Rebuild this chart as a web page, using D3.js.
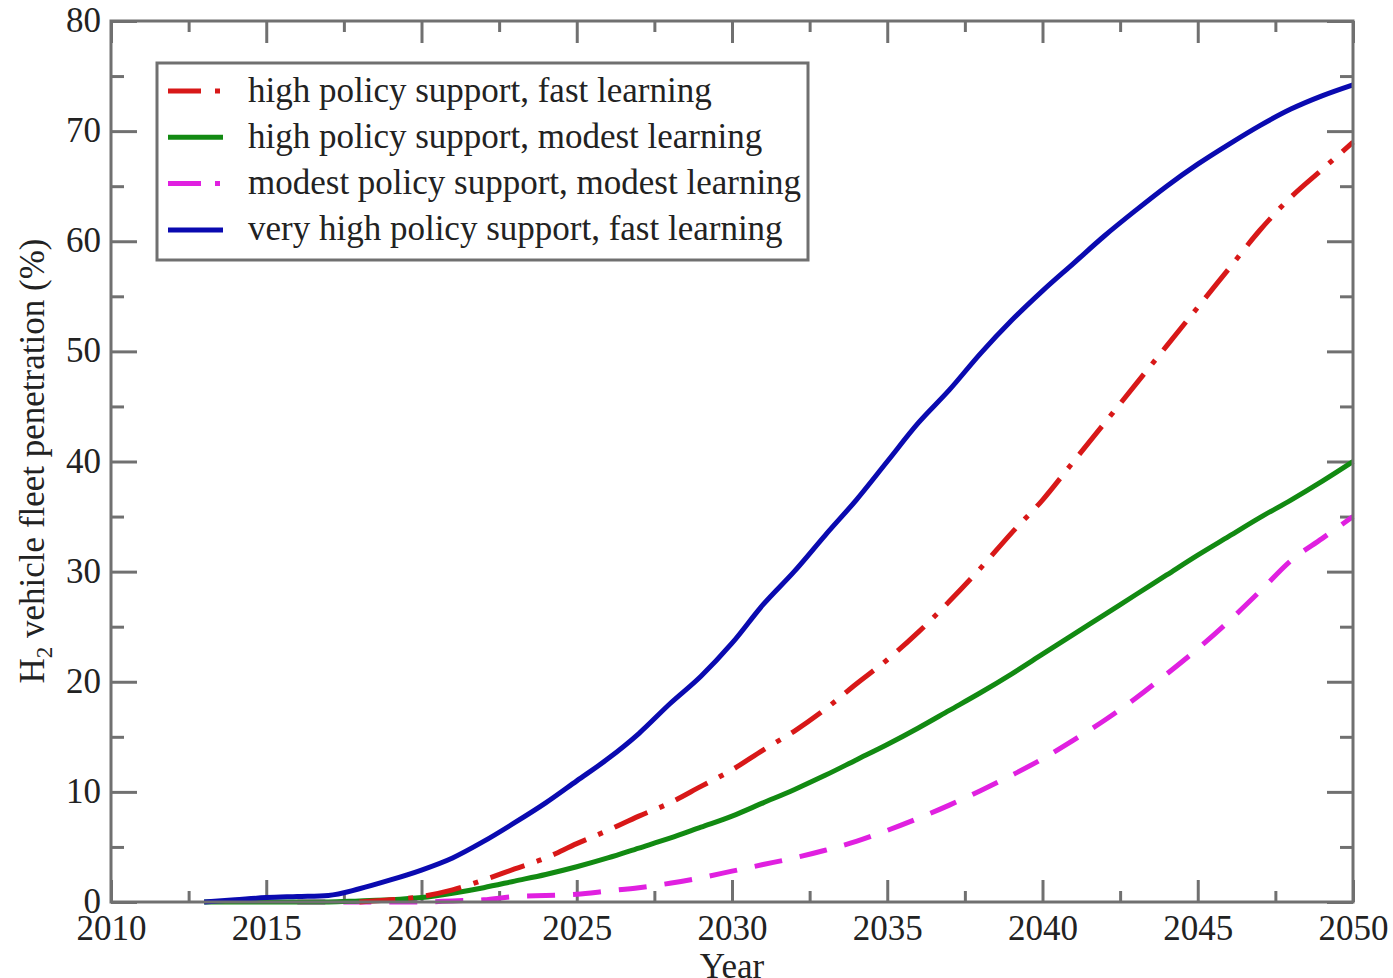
<!DOCTYPE html>
<html>
<head>
<meta charset="utf-8">
<script src="https://cdn.jsdelivr.net/npm/d3@7"></script>
<style>
  body { margin: 0; background: #fff; }
  svg text { font-family: "Liberation Serif", "DejaVu Serif", serif; fill: #222; }
</style>
</head>
<body>
<svg id="chart" width="1393" height="978"></svg>
<script>
// years
const years = d3.range(2013, 2051);

const seriesNames = [
  "high policy support, fast learning",
  "high policy support, modest learning",
  "modest policy support, modest learning",
  "very high policy support, fast learning"
];
const seriesColors = ["#d81818", "#128a12", "#e020e0", "#0a0ab0"];
const seriesDash = ["36,13,5,13", null, "28,18", null];
const legendDash = ["33,14,5,20", null, "33,14,5,20", null];

// values per year, 2013..2050 (null = not drawn)
const redVals = [null, null, null, null, null, 0, 0.2, 0.5, 1.1, 2, 3, 4, 5.3, 6.5, 7.8, 9, 10.5, 12, 13.8, 15.5, 17.5, 19.8, 22, 24.5, 27.3, 30.3, 33.5, 36.5, 40, 43.5, 47, 50.5, 54, 57.5, 61, 64, 66.5, 69];
const greenVals = [0, 0, 0, 0, 0, 0.1, 0.2, 0.4, 0.8, 1.3, 1.9, 2.5, 3.2, 4, 4.9, 5.8, 6.8, 7.8, 9, 10.2, 11.5, 12.9, 14.3, 15.8, 17.4, 19, 20.7, 22.5, 24.3, 26.1, 27.9, 29.7, 31.5, 33.2, 34.9, 36.5, 38.2, 40];
const magentaVals = [null, null, null, 0, 0, 0, 0, 0, 0.1, 0.2, 0.5, 0.6, 0.7, 1, 1.3, 1.7, 2.2, 2.8, 3.4, 4, 4.7, 5.5, 6.5, 7.6, 8.8, 10.1, 11.5, 13, 14.7, 16.5, 18.5, 20.7, 23, 25.5, 28.2, 31, 33, 35];
const blueVals = [0, 0.2, 0.4, 0.5, 0.6, 1.2, 2, 2.9, 4, 5.5, 7.2, 9, 11, 13, 15.3, 18, 20.5, 23.5, 27, 30, 33.3, 36.5, 40, 43.5, 46.5, 49.8, 52.8, 55.5, 58, 60.5, 62.8, 65, 67, 68.8, 70.5, 72, 73.2, 74.2];

const seriesVals = [redVals, greenVals, magentaVals, blueVals];

const xTicks = d3.range(2010, 2051, 5);
const yTicks = d3.range(0, 81, 10);

const margin = { left: 111, right: 40, top: 21, bottom: 76 };
const width = 1393, height = 978;
const fontSize = 35;

const svg = d3.select("#chart");

const x = d3.scaleLinear().domain([2010, 2050]).range([margin.left, width - margin.right]);
const y = d3.scaleLinear().domain([0, 80]).range([height - margin.bottom, margin.top]);

const axisColor = "#707070";

// minor ticks (no labels)
const minorX = d3.range(2012.5, 2050, 5);
const minorY = d3.range(5, 80, 10);

function styleAxis(g) {
  g.select(".domain").remove();
  g.selectAll("line").attr("stroke", axisColor).attr("stroke-width", 3);
  g.selectAll("text").attr("font-size", fontSize);
}

// bottom
svg.append("g")
  .attr("transform", `translate(0,${y(0)})`)
  .call(d3.axisBottom(x).tickValues(xTicks).tickFormat(d3.format("d")).tickSize(-22))
  .call(styleAxis)
  .call(g => g.selectAll("text").attr("dy", null).attr("y", 38));
svg.append("g")
  .attr("transform", `translate(0,${y(0)})`)
  .call(d3.axisBottom(x).tickValues(minorX).tickFormat("").tickSize(-11))
  .call(styleAxis);

// top
svg.append("g")
  .attr("transform", `translate(0,${y(80)})`)
  .call(d3.axisTop(x).tickValues(xTicks).tickFormat("").tickSize(-22))
  .call(styleAxis);
svg.append("g")
  .attr("transform", `translate(0,${y(80)})`)
  .call(d3.axisTop(x).tickValues(minorX).tickFormat("").tickSize(-11))
  .call(styleAxis);

// left
svg.append("g")
  .attr("transform", `translate(${x(2010)},0)`)
  .call(d3.axisLeft(y).tickValues(yTicks).tickSize(-26))
  .call(styleAxis)
  .call(g => g.selectAll("text").attr("x", -10).attr("dy", "0.3em"));
svg.append("g")
  .attr("transform", `translate(${x(2010)},0)`)
  .call(d3.axisLeft(y).tickValues(minorY).tickFormat("").tickSize(-13))
  .call(styleAxis);

// right
svg.append("g")
  .attr("transform", `translate(${x(2050)},0)`)
  .call(d3.axisRight(y).tickValues(yTicks).tickFormat("").tickSize(-26))
  .call(styleAxis);
svg.append("g")
  .attr("transform", `translate(${x(2050)},0)`)
  .call(d3.axisRight(y).tickValues(minorY).tickFormat("").tickSize(-13))
  .call(styleAxis);

// series
const line = d3.line()
  .defined(d => d.v != null)
  .x(d => x(d.year))
  .y(d => y(d.v))
  .curve(d3.curveMonotoneX);

const drawOrder = [2, 1, 0, 3];
drawOrder.forEach(i => {
  const pts = years.map((yr, k) => ({ year: yr, v: seriesVals[i][k] }));
  svg.append("path")
    .datum(pts)
    .attr("d", line)
    .attr("fill", "none")
    .attr("stroke", seriesColors[i])
    .attr("stroke-width", 5)
    .attr("stroke-dasharray", seriesDash[i]);
});

// frame
svg.append("rect")
  .attr("x", x(2010)).attr("y", y(80))
  .attr("width", x(2050) - x(2010)).attr("height", y(0) - y(80))
  .attr("fill", "none").attr("stroke", axisColor).attr("stroke-width", 3);

// legend
const legend = svg.append("g");
legend.append("rect")
  .attr("x", 157).attr("y", 63).attr("width", 651).attr("height", 197)
  .attr("fill", "#fff").attr("stroke", axisColor).attr("stroke-width", 3);
seriesNames.forEach((name, i) => {
  const ly = 91 + i * 46.3;
  legend.append("line")
    .attr("x1", 168).attr("x2", 223).attr("y1", ly).attr("y2", ly)
    .attr("stroke", seriesColors[i]).attr("stroke-width", 5)
    .attr("stroke-dasharray", legendDash[i]);
  legend.append("text")
    .attr("x", 248).attr("y", ly).attr("dy", "0.3em")
    .attr("font-size", fontSize)
    .text(name);
});

// axis titles
svg.append("text")
  .attr("x", x(2030)).attr("y", 978)
  .attr("text-anchor", "middle").attr("font-size", fontSize)
  .text("Year");

const yl = svg.append("text")
  .attr("transform", "translate(44,461) rotate(-90)")
  .attr("text-anchor", "middle").attr("font-size", fontSize);
yl.append("tspan").text("H");
yl.append("tspan").attr("font-size", 23).attr("dy", 8).text("2");
yl.append("tspan").attr("dy", -8).text(" vehicle fleet penetration (%)");
</script>
</body>
</html>
